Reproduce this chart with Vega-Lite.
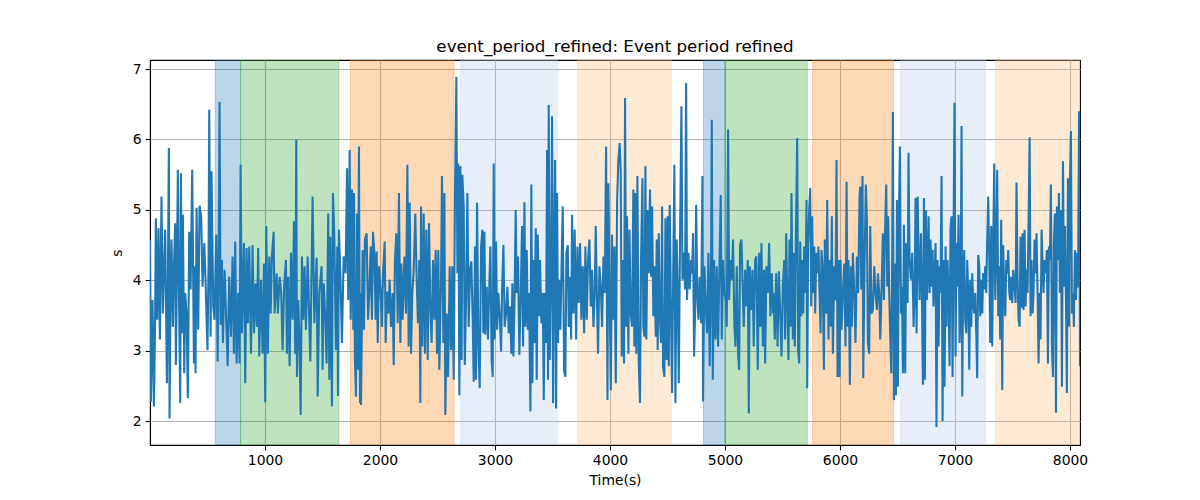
{
"$schema": "https://vega.github.io/schema/vega-lite/v6.json",
"width": 930,
"height": 385,
"autosize": {"type": "none"},
"padding": {"left": 150, "top": 60, "right": 120, "bottom": 55},
"background": "white",
"config": {
  "view": {"stroke": "black", "strokeWidth": 1.1},
  "font": "DejaVu Sans",
  "axis": {"grid": true, "gridColor": "#b0b0b0", "gridWidth": 1.1, "domainColor": "black", "domainWidth": 1.1, "tickColor": "black", "tickWidth": 1.1, "tickSize": 4.9, "labelPadding": 4, "labelFontSize": 13.9, "labelColor": "black", "labelFont": "DejaVu Sans", "titleFont": "DejaVu Sans", "titleFontSize": 13.9, "titleFontWeight": "normal", "titleColor": "black"}
},
"title": {"text": "event_period_refined: Event period refined", "fontSize": 16.7, "fontWeight": "normal", "color": "black", "font": "DejaVu Sans", "offset": 4, "anchor": "middle"},
"datasets": {
"bands": [
{"start": 567, "end": 788, "kind": "A"},
{"start": 788, "end": 1643, "kind": "B"},
{"start": 1742, "end": 2644, "kind": "C"},
{"start": 2699, "end": 3540, "kind": "D"},
{"start": 3717, "end": 4532, "kind": "E"},
{"start": 4813, "end": 4999, "kind": "A"},
{"start": 4999, "end": 5715, "kind": "B"},
{"start": 5761, "end": 6466, "kind": "C"},
{"start": 6527, "end": 7266, "kind": "D"},
{"start": 7353, "end": 8087, "kind": "E"}
],
"series": [
{"t":0,"v":4.57},{"t":8,"v":2.28},{"t":22,"v":3.72},{"t":34,"v":2.21},{"t":45,"v":3.53},{"t":51,"v":4.88},{"t":63,"v":3.44},{"t":74,"v":4.74},{"t":86,"v":3.16},{"t":100,"v":5.19},{"t":112,"v":3.53},{"t":124,"v":4.29},{"t":132,"v":4.72},{"t":147,"v":2.54},{"t":155,"v":3.82},{"t":164,"v":5.88},{"t":170,"v":2.04},{"t":179,"v":3.82},{"t":187,"v":4.58},{"t":199,"v":3.34},{"t":208,"v":4.2},{"t":219,"v":4.81},{"t":225,"v":2.8},{"t":234,"v":4.1},{"t":242,"v":5.57},{"t":254,"v":3.53},{"t":263,"v":2.26},{"t":269,"v":5.52},{"t":277,"v":3.25},{"t":286,"v":4.93},{"t":298,"v":2.68},{"t":306,"v":3.82},{"t":318,"v":3.53},{"t":329,"v":2.33},{"t":341,"v":4.69},{"t":353,"v":3.87},{"t":367,"v":5.57},{"t":382,"v":2.82},{"t":390,"v":4.2},{"t":396,"v":2.68},{"t":405,"v":5.03},{"t":419,"v":3.3},{"t":431,"v":5.06},{"t":445,"v":4.91},{"t":457,"v":3.91},{"t":472,"v":4.53},{"t":483,"v":4.01},{"t":492,"v":3.44},{"t":500,"v":3.01},{"t":509,"v":4.22},{"t":515,"v":6.42},{"t":527,"v":3.2},{"t":535,"v":5.55},{"t":550,"v":3.63},{"t":561,"v":3.44},{"t":576,"v":4.65},{"t":588,"v":2.85},{"t":596,"v":4.2},{"t":605,"v":6.53},{"t":614,"v":3.37},{"t":625,"v":4.29},{"t":634,"v":3.11},{"t":648,"v":4.15},{"t":663,"v":3.44},{"t":675,"v":2.78},{"t":689,"v":4.05},{"t":704,"v":3.2},{"t":718,"v":4.34},{"t":730,"v":2.96},{"t":741,"v":4.55},{"t":753,"v":2.82},{"t":767,"v":3.82},{"t":779,"v":2.82},{"t":788,"v":5.64},{"t":799,"v":3.25},{"t":817,"v":4.53},{"t":828,"v":2.54},{"t":840,"v":4.46},{"t":851,"v":3.39},{"t":863,"v":4.48},{"t":878,"v":2.96},{"t":892,"v":4.5},{"t":904,"v":3.25},{"t":918,"v":3.96},{"t":930,"v":3.34},{"t":941,"v":4.46},{"t":950,"v":2.92},{"t":965,"v":4.01},{"t":979,"v":2.96},{"t":991,"v":4.24},{"t":1002,"v":2.27},{"t":1011,"v":4.77},{"t":1025,"v":2.96},{"t":1037,"v":4.34},{"t":1049,"v":3.53},{"t":1060,"v":4.34},{"t":1075,"v":4.69},{"t":1083,"v":3.53},{"t":1101,"v":4.1},{"t":1112,"v":3.53},{"t":1127,"v":4.05},{"t":1141,"v":3.82},{"t":1153,"v":3.01},{"t":1167,"v":3.94},{"t":1182,"v":4.29},{"t":1191,"v":2.96},{"t":1202,"v":4.05},{"t":1214,"v":2.78},{"t":1226,"v":4.39},{"t":1240,"v":3.44},{"t":1252,"v":4.84},{"t":1263,"v":2.96},{"t":1272,"v":6.0},{"t":1278,"v":2.63},{"t":1289,"v":3.72},{"t":1301,"v":3.06},{"t":1310,"v":2.09},{"t":1321,"v":4.34},{"t":1333,"v":3.44},{"t":1344,"v":4.2},{"t":1356,"v":3.3},{"t":1371,"v":4.34},
{"t":1394,"v":2.85},{"t":1414,"v":5.19},{"t":1429,"v":3.39},{"t":1449,"v":4.32},{"t":1458,"v":2.35},{"t":1472,"v":3.82},{"t":1492,"v":4.2},{"t":1501,"v":2.73},{"t":1510,"v":3.96},{"t":1524,"v":3.49},{"t":1536,"v":2.82},{"t":1550,"v":4.95},{"t":1559,"v":2.59},{"t":1568,"v":4.62},{"t":1582,"v":2.21},{"t":1591,"v":5.24},{"t":1603,"v":4.58},{"t":1617,"v":3.01},{"t":1629,"v":4.48},{"t":1635,"v":2.36},{"t":1643,"v":4.72},{"t":1655,"v":4.1},{"t":1669,"v":3.11},{"t":1684,"v":4.34},{"t":1701,"v":4.1},{"t":1713,"v":5.59},{"t":1724,"v":3.72},{"t":1736,"v":5.85},{"t":1745,"v":3.44},{"t":1756,"v":5.29},{"t":1768,"v":3.3},{"t":1774,"v":5.24},{"t":1782,"v":2.87},{"t":1791,"v":2.35},{"t":1800,"v":4.95},{"t":1808,"v":2.73},{"t":1817,"v":5.9},{"t":1826,"v":2.26},{"t":1830,"v":3.82},{"t":1835,"v":2.23},{"t":1849,"v":4.43},{"t":1861,"v":3.3},{"t":1869,"v":4.58},{"t":1884,"v":4.67},{"t":1896,"v":3.44},{"t":1907,"v":3.82},{"t":1919,"v":4.48},{"t":1930,"v":3.44},{"t":1939,"v":4.69},{"t":1951,"v":4.39},{"t":1962,"v":3.44},{"t":1971,"v":4.41},{"t":1980,"v":3.11},{"t":1991,"v":4.2},{"t":2006,"v":3.82},{"t":2017,"v":3.34},{"t":2026,"v":4.1},{"t":2041,"v":4.55},{"t":2049,"v":3.11},{"t":2061,"v":3.84},{"t":2072,"v":3.53},{"t":2084,"v":4.01},{"t":2096,"v":3.34},{"t":2110,"v":3.82},{"t":2119,"v":2.8},{"t":2130,"v":4.29},{"t":2142,"v":4.67},{"t":2154,"v":3.39},{"t":2165,"v":5.24},{"t":2177,"v":3.11},{"t":2186,"v":4.24},{"t":2197,"v":3.44},{"t":2212,"v":4.34},{"t":2226,"v":3.53},{"t":2238,"v":5.64},{"t":2249,"v":3.06},{"t":2258,"v":5.1},{"t":2270,"v":2.96},{"t":2281,"v":3.82},{"t":2293,"v":4.15},{"t":2307,"v":4.95},{"t":2319,"v":4.01},{"t":2330,"v":3.39},{"t":2342,"v":4.29},{"t":2351,"v":2.26},{"t":2357,"v":5.05},{"t":2368,"v":3.06},{"t":2380,"v":4.95},{"t":2391,"v":2.96},{"t":2403,"v":4.72},{"t":2415,"v":2.87},{"t":2426,"v":4.81},{"t":2438,"v":3.58},{"t":2449,"v":3.11},{"t":2461,"v":4.29},{"t":2473,"v":3.44},{"t":2484,"v":4.43},{"t":2496,"v":2.96},{"t":2507,"v":4.43},{"t":2516,"v":2.73},{"t":2531,"v":4.05},{"t":2539,"v":5.48},{"t":2551,"v":3.11},{"t":2560,"v":5.24},{"t":2568,"v":2.09},{"t":2580,"v":3.53},{"t":2592,"v":2.63},{"t":2606,"v":4.2},{"t":2618,"v":3.01},{"t":2629,"v":4.2},{"t":2641,"v":2.59},{"t":2652,"v":5.19},{"t":2664,"v":6.89},{"t":2673,"v":4.1},{"t":2681,"v":5.66},{"t":2690,"v":2.37},{"t":2699,"v":5.62},{"t":2710,"v":2.87},{"t":2716,"v":5.5},{"t":2728,"v":5.05},{"t":2737,"v":2.8},
{"t":2748,"v":3.68},{"t":2760,"v":5.24},{"t":2771,"v":3.34},{"t":2783,"v":4.15},{"t":2794,"v":4.27},{"t":2806,"v":3.44},{"t":2815,"v":2.56},{"t":2826,"v":4.48},{"t":2835,"v":2.59},{"t":2844,"v":5.1},{"t":2855,"v":3.11},{"t":2867,"v":2.47},{"t":2879,"v":4.48},{"t":2890,"v":4.72},{"t":2899,"v":3.25},{"t":2908,"v":4.69},{"t":2916,"v":3.23},{"t":2928,"v":3.91},{"t":2939,"v":3.16},{"t":2951,"v":3.96},{"t":2960,"v":4.48},{"t":2971,"v":2.87},{"t":2980,"v":2.63},{"t":2989,"v":5.66},{"t":2997,"v":3.16},{"t":3009,"v":4.55},{"t":3018,"v":3.3},{"t":3029,"v":3.82},{"t":3041,"v":3.49},{"t":3053,"v":2.99},{"t":3061,"v":3.82},{"t":3073,"v":4.5},{"t":3084,"v":3.34},{"t":3096,"v":3.53},{"t":3108,"v":3.91},{"t":3119,"v":3.25},{"t":3131,"v":3.63},{"t":3142,"v":2.96},{"t":3151,"v":3.96},{"t":3160,"v":2.92},{"t":3171,"v":3.82},{"t":3180,"v":5.0},{"t":3189,"v":3.82},{"t":3200,"v":4.34},{"t":3212,"v":2.94},{"t":3224,"v":3.82},{"t":3235,"v":4.77},{"t":3244,"v":3.06},{"t":3256,"v":5.11},{"t":3264,"v":3.34},{"t":3276,"v":4.43},{"t":3285,"v":3.3},{"t":3296,"v":3.82},{"t":3308,"v":2.14},{"t":3316,"v":5.36},{"t":3325,"v":2.54},{"t":3334,"v":4.29},{"t":3345,"v":3.11},{"t":3354,"v":4.74},{"t":3363,"v":2.59},{"t":3372,"v":4.65},{"t":3383,"v":3.49},{"t":3392,"v":4.29},{"t":3403,"v":3.39},{"t":3415,"v":3.82},{"t":3424,"v":2.3},{"t":3432,"v":3.82},{"t":3444,"v":3.11},{"t":3453,"v":5.85},{"t":3461,"v":2.59},{"t":3467,"v":6.49},{"t":3476,"v":2.87},{"t":3488,"v":4.2},{"t":3496,"v":6.33},{"t":3505,"v":2.26},{"t":3514,"v":4.39},{"t":3522,"v":5.71},{"t":3531,"v":2.18},{"t":3540,"v":5.24},{"t":3548,"v":3.11},{"t":3557,"v":4.01},{"t":3569,"v":3.3},{"t":3580,"v":4.34},{"t":3589,"v":5.05},{"t":3601,"v":2.71},{"t":3612,"v":2.63},{"t":3621,"v":4.39},{"t":3633,"v":4.5},{"t":3641,"v":3.34},{"t":3653,"v":4.05},{"t":3662,"v":3.16},{"t":3670,"v":4.93},{"t":3682,"v":3.53},{"t":3693,"v":4.72},{"t":3705,"v":3.16},{"t":3717,"v":4.48},{"t":3728,"v":3.68},{"t":3740,"v":4.53},{"t":3751,"v":3.44},{"t":3763,"v":4.2},{"t":3775,"v":3.25},{"t":3786,"v":4.48},{"t":3798,"v":3.44},{"t":3809,"v":4.29},{"t":3821,"v":4.58},{"t":3833,"v":3.63},{"t":3844,"v":4.15},{"t":3856,"v":3.34},{"t":3867,"v":3.82},{"t":3876,"v":4.77},{"t":3885,"v":3.87},{"t":3896,"v":2.96},{"t":3908,"v":4.2},{"t":3920,"v":3.91},{"t":3931,"v":3.34},{"t":3943,"v":4.34},{"t":3954,"v":3.82},{"t":3966,"v":5.9},{"t":3978,"v":2.3},{"t":3986,"v":5.38},{"t":3995,"v":4.1},{"t":4007,"v":2.44},{"t":4018,"v":4.65},{"t":4027,"v":3.44},{"t":4039,"v":4.48},{"t":4050,"v":2.54},{"t":4062,"v":5.14},{"t":4073,"v":5.71},
{"t":4084,"v":5.95},{"t":4093,"v":5.57},{"t":4102,"v":2.92},{"t":4113,"v":4.29},{"t":4122,"v":2.82},{"t":4131,"v":6.59},{"t":4140,"v":3.34},{"t":4148,"v":4.91},{"t":4160,"v":2.96},{"t":4169,"v":4.72},{"t":4180,"v":3.53},{"t":4192,"v":3.34},{"t":4203,"v":5.29},{"t":4212,"v":3.06},{"t":4221,"v":5.24},{"t":4229,"v":2.96},{"t":4238,"v":5.48},{"t":4250,"v":2.82},{"t":4261,"v":2.26},{"t":4270,"v":4.29},{"t":4282,"v":5.45},{"t":4290,"v":3.34},{"t":4299,"v":3.2},{"t":4308,"v":5.62},{"t":4316,"v":3.16},{"t":4328,"v":5.0},{"t":4337,"v":4.1},{"t":4348,"v":5.29},{"t":4357,"v":4.05},{"t":4366,"v":5.05},{"t":4377,"v":3.49},{"t":4386,"v":4.2},{"t":4398,"v":3.2},{"t":4406,"v":4.58},{"t":4415,"v":3.01},{"t":4424,"v":4.67},{"t":4432,"v":3.53},{"t":4444,"v":3.11},{"t":4453,"v":5.05},{"t":4461,"v":2.78},{"t":4473,"v":2.63},{"t":4482,"v":4.88},{"t":4493,"v":2.87},{"t":4502,"v":4.91},{"t":4511,"v":2.78},{"t":4519,"v":5.07},{"t":4531,"v":3.44},{"t":4540,"v":2.4},{"t":4551,"v":4.34},{"t":4560,"v":5.64},{"t":4569,"v":2.26},{"t":4580,"v":4.58},{"t":4589,"v":3.82},{"t":4598,"v":2.54},{"t":4609,"v":4.58},{"t":4621,"v":6.47},{"t":4630,"v":4.01},{"t":4641,"v":4.39},{"t":4653,"v":3.87},{"t":4662,"v":6.8},{"t":4670,"v":3.72},{"t":4682,"v":4.39},{"t":4693,"v":3.87},{"t":4705,"v":4.29},{"t":4714,"v":4.1},{"t":4722,"v":4.67},{"t":4731,"v":2.92},{"t":4740,"v":3.53},{"t":4749,"v":5.07},{"t":4760,"v":3.72},{"t":4769,"v":3.44},{"t":4780,"v":4.05},{"t":4792,"v":3.39},{"t":4804,"v":5.48},{"t":4809,"v":2.28},{"t":4821,"v":4.2},{"t":4833,"v":3.63},{"t":4844,"v":3.25},{"t":4856,"v":4.39},{"t":4867,"v":2.78},{"t":4879,"v":4.29},{"t":4885,"v":6.28},{"t":4894,"v":2.59},{"t":4905,"v":4.29},{"t":4917,"v":3.16},{"t":4928,"v":4.2},{"t":4940,"v":3.06},{"t":4952,"v":4.24},{"t":4963,"v":5.21},{"t":4972,"v":3.16},{"t":4983,"v":4.29},{"t":4995,"v":3.82},{"t":5007,"v":3.72},{"t":5015,"v":3.34},{"t":5027,"v":6.14},{"t":5036,"v":3.72},{"t":5047,"v":4.29},{"t":5059,"v":4.01},{"t":5070,"v":4.58},{"t":5082,"v":3.34},{"t":5091,"v":3.06},{"t":5102,"v":4.2},{"t":5114,"v":2.96},{"t":5123,"v":2.73},{"t":5131,"v":4.5},{"t":5143,"v":4.58},{"t":5155,"v":3.82},{"t":5163,"v":3.34},{"t":5175,"v":4.15},{"t":5186,"v":3.63},{"t":5198,"v":4.29},{"t":5207,"v":2.11},{"t":5215,"v":4.2},{"t":5227,"v":3.58},{"t":5239,"v":4.15},{"t":5250,"v":3.06},{"t":5262,"v":4.29},{"t":5273,"v":4.34},{"t":5285,"v":2.73},{"t":5297,"v":4.39},{"t":5308,"v":3.34},{"t":5317,"v":4.53},{"t":5329,"v":3.06},{"t":5340,"v":4.15},{"t":5349,"v":2.82},{"t":5360,"v":4.2},{"t":5372,"v":3.82},{"t":5384,"v":4.53},{"t":5395,"v":3.49},{"t":5407,"v":4.1},{"t":5418,"v":3.53},
{"t":5422,"v":3.82},{"t":5433,"v":3.16},{"t":5445,"v":4.1},{"t":5457,"v":3.06},{"t":5468,"v":4.13},{"t":5480,"v":3.53},{"t":5491,"v":2.92},{"t":5503,"v":3.91},{"t":5515,"v":4.29},{"t":5523,"v":3.16},{"t":5532,"v":4.67},{"t":5541,"v":3.82},{"t":5552,"v":2.87},{"t":5561,"v":4.58},{"t":5570,"v":3.34},{"t":5578,"v":5.24},{"t":5590,"v":3.16},{"t":5599,"v":4.39},{"t":5607,"v":3.06},{"t":5616,"v":4.53},{"t":5628,"v":6.02},{"t":5636,"v":3.01},{"t":5645,"v":2.82},{"t":5654,"v":4.55},{"t":5663,"v":3.49},{"t":5671,"v":4.29},{"t":5680,"v":3.53},{"t":5689,"v":4.48},{"t":5700,"v":3.82},{"t":5709,"v":5.14},{"t":5715,"v":2.47},{"t":5723,"v":4.48},{"t":5732,"v":5.0},{"t":5741,"v":5.31},{"t":5750,"v":3.63},{"t":5758,"v":4.91},{"t":5767,"v":3.82},{"t":5776,"v":4.48},{"t":5784,"v":3.53},{"t":5793,"v":4.39},{"t":5802,"v":4.1},{"t":5813,"v":4.48},{"t":5822,"v":3.82},{"t":5831,"v":3.25},{"t":5839,"v":4.43},{"t":5848,"v":4.2},{"t":5860,"v":2.73},{"t":5868,"v":4.58},{"t":5880,"v":3.53},{"t":5889,"v":5.14},{"t":5900,"v":3.16},{"t":5912,"v":4.29},{"t":5921,"v":3.34},{"t":5929,"v":4.91},{"t":5938,"v":2.96},{"t":5950,"v":4.2},{"t":5961,"v":3.72},{"t":5970,"v":5.71},{"t":5979,"v":2.63},{"t":5987,"v":4.29},{"t":5996,"v":2.63},{"t":6005,"v":4.29},{"t":6013,"v":3.3},{"t":6025,"v":3.82},{"t":6037,"v":4.24},{"t":6048,"v":3.06},{"t":6057,"v":5.4},{"t":6066,"v":3.34},{"t":6074,"v":4.29},{"t":6086,"v":2.52},{"t":6095,"v":4.2},{"t":6103,"v":3.34},{"t":6112,"v":4.39},{"t":6124,"v":3.82},{"t":6135,"v":3.11},{"t":6147,"v":4.34},{"t":6158,"v":3.82},{"t":6170,"v":5.19},{"t":6176,"v":5.33},{"t":6185,"v":3.87},{"t":6196,"v":5.48},{"t":6202,"v":2.61},{"t":6214,"v":4.29},{"t":6225,"v":5.36},{"t":6234,"v":4.86},{"t":6243,"v":3.11},{"t":6254,"v":2.96},{"t":6263,"v":4.77},{"t":6274,"v":3.53},{"t":6286,"v":3.58},{"t":6298,"v":4.2},{"t":6309,"v":3.82},{"t":6321,"v":3.58},{"t":6330,"v":4.1},{"t":6341,"v":3.82},{"t":6350,"v":3.16},{"t":6361,"v":3.82},{"t":6373,"v":4.67},{"t":6382,"v":3.72},{"t":6390,"v":4.58},{"t":6402,"v":5.36},{"t":6411,"v":3.91},{"t":6419,"v":4.91},{"t":6428,"v":3.82},{"t":6437,"v":3.2},{"t":6446,"v":2.68},{"t":6454,"v":4.29},{"t":6460,"v":6.39},{"t":6469,"v":2.3},{"t":6477,"v":4.24},{"t":6486,"v":2.37},{"t":6495,"v":5.14},{"t":6504,"v":2.49},{"t":6512,"v":4.86},{"t":6521,"v":5.9},{"t":6530,"v":3.53},{"t":6538,"v":3.91},{"t":6547,"v":2.68},{"t":6556,"v":4.79},{"t":6567,"v":2.68},{"t":6576,"v":4.53},{"t":6588,"v":3.68},{"t":6596,"v":5.81},{"t":6605,"v":4.29},{"t":6617,"v":4.01},{"t":6628,"v":4.39},{"t":6640,"v":3.34},{"t":6649,"v":3.82},{"t":6657,"v":5.17},{"t":6666,"v":3.25},{"t":6675,"v":5.19},{"t":6683,"v":4.43},{"t":6692,"v":3.72},{"t":6704,"v":4.67},{"t":6712,"v":3.82},{"t":6721,"v":2.52},{"t":6730,"v":5.17},{"t":6738,"v":2.59},{"t":6747,"v":5.0},{"t":6756,"v":3.72},{"t":6767,"v":4.53},
{"t":6770,"v":4.91},{"t":6779,"v":3.82},{"t":6787,"v":4.58},{"t":6796,"v":3.91},{"t":6805,"v":4.43},{"t":6813,"v":3.63},{"t":6822,"v":4.1},{"t":6831,"v":4.53},{"t":6839,"v":1.92},{"t":6848,"v":4.29},{"t":6857,"v":3.06},{"t":6866,"v":4.2},{"t":6874,"v":3.82},{"t":6883,"v":5.48},{"t":6892,"v":2.0},{"t":6900,"v":4.29},{"t":6909,"v":2.49},{"t":6918,"v":4.48},{"t":6926,"v":3.34},{"t":6935,"v":4.29},{"t":6944,"v":3.82},{"t":6953,"v":2.78},{"t":6961,"v":4.74},{"t":6970,"v":4.91},{"t":6979,"v":2.63},{"t":6987,"v":4.58},{"t":6996,"v":6.52},{"t":7005,"v":2.92},{"t":7013,"v":4.53},{"t":7022,"v":3.91},{"t":7031,"v":4.93},{"t":7040,"v":3.11},{"t":7048,"v":3.53},{"t":7057,"v":6.19},{"t":7063,"v":2.35},{"t":7071,"v":4.05},{"t":7080,"v":4.43},{"t":7089,"v":3.44},{"t":7098,"v":3.25},{"t":7106,"v":4.29},{"t":7115,"v":3.82},{"t":7124,"v":2.73},{"t":7132,"v":4.01},{"t":7141,"v":3.34},{"t":7150,"v":4.1},{"t":7158,"v":3.68},{"t":7167,"v":3.53},{"t":7176,"v":3.82},{"t":7185,"v":3.25},{"t":7193,"v":2.61},{"t":7202,"v":4.36},{"t":7211,"v":4.2},{"t":7219,"v":3.49},{"t":7228,"v":4.01},{"t":7237,"v":3.53},{"t":7245,"v":4.1},{"t":7254,"v":3.87},{"t":7263,"v":4.2},{"t":7272,"v":3.82},{"t":7280,"v":4.58},{"t":7289,"v":5.19},{"t":7298,"v":4.29},{"t":7306,"v":3.11},{"t":7315,"v":4.77},{"t":7324,"v":3.06},{"t":7332,"v":4.48},{"t":7341,"v":5.66},{"t":7350,"v":3.72},{"t":7359,"v":4.39},{"t":7367,"v":5.57},{"t":7376,"v":3.49},{"t":7385,"v":4.2},{"t":7393,"v":3.16},{"t":7402,"v":4.86},{"t":7411,"v":2.44},{"t":7419,"v":4.5},{"t":7428,"v":3.82},{"t":7437,"v":3.49},{"t":7446,"v":4.29},{"t":7454,"v":4.1},{"t":7463,"v":4.43},{"t":7472,"v":3.82},{"t":7480,"v":3.72},{"t":7489,"v":4.05},{"t":7498,"v":3.68},{"t":7506,"v":4.15},{"t":7518,"v":3.91},{"t":7527,"v":3.68},{"t":7535,"v":5.39},{"t":7544,"v":4.05},{"t":7553,"v":3.44},{"t":7562,"v":3.34},{"t":7570,"v":4.62},{"t":7579,"v":3.61},{"t":7588,"v":4.67},{"t":7596,"v":3.58},{"t":7605,"v":4.72},{"t":7614,"v":3.63},{"t":7622,"v":4.15},{"t":7631,"v":3.82},{"t":7640,"v":4.86},{"t":7649,"v":6.03},{"t":7657,"v":3.49},{"t":7666,"v":4.29},{"t":7675,"v":3.53},{"t":7683,"v":3.82},{"t":7692,"v":4.58},{"t":7701,"v":4.1},{"t":7709,"v":4.67},{"t":7718,"v":3.82},{"t":7727,"v":2.82},{"t":7736,"v":3.82},{"t":7744,"v":3.16},{"t":7753,"v":4.72},{"t":7762,"v":4.2},{"t":7770,"v":3.82},{"t":7779,"v":4.29},{"t":7788,"v":4.1},{"t":7799,"v":4.43},{"t":7808,"v":2.82},{"t":7817,"v":4.48},{"t":7825,"v":4.29},{"t":7834,"v":5.36},{"t":7843,"v":3.06},{"t":7852,"v":2.63},{"t":7860,"v":4.53},{"t":7869,"v":4.95},{"t":7878,"v":2.12},{"t":7886,"v":5.05},{"t":7895,"v":4.29},{"t":7904,"v":5.24},{"t":7912,"v":3.82},{"t":7921,"v":5.0},{"t":7930,"v":2.49},{"t":7939,"v":5.69},{"t":7947,"v":3.91},{"t":7956,"v":4.77},{"t":7965,"v":3.72},{"t":7973,"v":2.4},{"t":7982,"v":5.45},{"t":7991,"v":3.34},{"t":7999,"v":5.33},{"t":8008,"v":6.12},{"t":8017,"v":3.53},{"t":8026,"v":3.82},{"t":8034,"v":3.34},{"t":8043,"v":4.43},{"t":8052,"v":3.72},{"t":8060,"v":4.39},{"t":8070,"v":3.9},{"t":8079,"v":6.4},{"t":8087,"v":2.78}
]
},
"layer": [
  {
    "data": {"name": "bands"},
    "mark": {"type": "rect", "fillOpacity": 0.3, "strokeOpacity": 0.3, "strokeWidth": 1, "clip": true},
    "encoding": {
      "x": {"field": "start", "type": "quantitative", "scale": {"domain": [0, 8087], "nice": false, "zero": false}, "axis": {"title": "Time(s)", "values": [1000, 2000, 3000, 4000, 5000, 6000, 7000, 8000], "format": "d", "titlePadding": 6}},
      "x2": {"field": "end"},
      "color": {"field": "kind", "type": "nominal", "scale": {"domain": ["A", "B", "C", "D", "E"], "range": ["#1f77b4", "#2ca02c", "#ff7f0e", "#aec7e8", "#ffbb78"]}, "legend": null},
      "stroke": {"field": "kind", "type": "nominal", "scale": {"domain": ["A", "B", "C", "D", "E"], "range": ["#1f77b4", "#2ca02c", "#ff7f0e", "#aec7e8", "#ffbb78"]}, "legend": null}
    }
  },
  {
    "data": {"name": "series"},
    "mark": {"type": "line", "color": "#1f77b4", "strokeWidth": 2.08, "clip": true},
    "encoding": {
      "x": {"field": "t", "type": "quantitative"},
      "y": {"field": "v", "type": "quantitative", "scale": {"domain": [1.663, 7.128], "nice": false, "zero": false}, "axis": {"title": "s", "values": [2, 3, 4, 5, 6, 7], "format": "d", "titlePadding": 8}}
    }
  }
]
}
